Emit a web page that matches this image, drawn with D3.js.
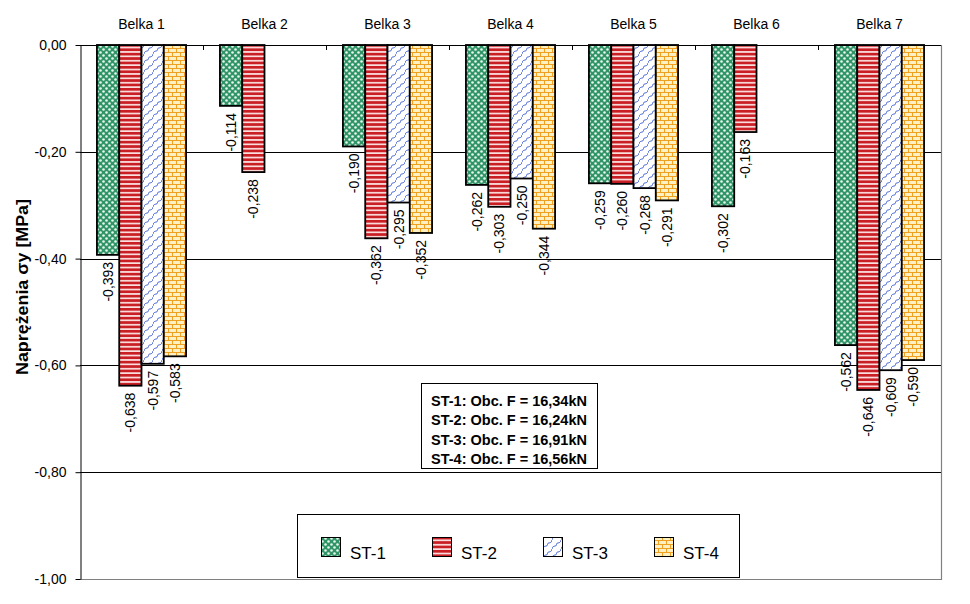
<!DOCTYPE html>
<html><head><meta charset="utf-8">
<script src="https://cdn.jsdelivr.net/npm/d3@7"></script>
<style>
html,body{margin:0;padding:0;background:#fff;}
svg{display:block;font-family:Arial,"Liberation Sans",sans-serif;}
</style></head>
<body><svg id="c" width="970" height="604"></svg>
<script>
const categories = ["Belka 1","Belka 2","Belka 3","Belka 4","Belka 5","Belka 6","Belka 7"];
const series = ["ST-1","ST-2","ST-3","ST-4"];
const st1 = [-0.393,-0.114,-0.190,-0.262,-0.259,-0.302,-0.562];
const st2 = [-0.638,-0.238,-0.362,-0.303,-0.260,-0.163,-0.646];
const st3 = [-0.597,null,-0.295,-0.250,-0.268,null,-0.609];
const st4 = [-0.583,null,-0.352,-0.344,-0.291,null,-0.590];
const yTicks = [0,-0.2,-0.4,-0.6,-0.8,-1.0];
const loadLabels = ["ST-1: Obc. F = 16,34kN","ST-2: Obc. F = 16,24kN","ST-3: Obc. F = 16,91kN","ST-4: Obc. F = 16,56kN"];
const yTitle = "Naprężenia σy [MPa]";

const values = [st1, st2, st3, st4];
const svg = d3.select("#c");
const L = 80, R = 941, T = 45, B = 579;

const x = d3.scaleBand().domain(categories).range([L, R]).padding(0);
const xs = d3.scaleBand().domain(series).range([0, x.bandwidth()]).paddingInner(0).paddingOuter(0.76);
const y = d3.scaleLinear().domain([-1, 0]).range([B, T]);
const fmt = v => v.toFixed(2).replace(".", ",");
const fmt3 = v => v.toFixed(3).replace(".", ",");

// patterns
const defs = svg.append("defs");
const p1 = defs.append("pattern").attr("id","pat0").attr("patternUnits","userSpaceOnUse").attr("width",6).attr("height",6);
p1.append("rect").attr("width",6).attr("height",6).attr("fill","#2f9466");
p1.append("circle").attr("cx",1.5).attr("cy",1.5).attr("r",1.3).attr("fill","#e8f5ee");
p1.append("circle").attr("cx",4.5).attr("cy",4.5).attr("r",1.3).attr("fill","#e8f5ee");
const p2 = defs.append("pattern").attr("id","pat1").attr("patternUnits","userSpaceOnUse").attr("width",4.4).attr("height",4.4);
p2.append("rect").attr("width",4.4).attr("height",4.4).attr("fill","#fbe0e0");
p2.append("rect").attr("width",4.4).attr("height",2.7).attr("fill","#c81e24");
const p3 = defs.append("pattern").attr("id","pat2").attr("patternUnits","userSpaceOnUse").attr("width",9).attr("height",9);
p3.append("rect").attr("width",9).attr("height",9).attr("fill","#ffffff");
p3.append("path").attr("d","M0,9 C0,5 5,7 4.5,4.5 C4,2 9,4 9,0").attr("fill","none").attr("stroke","#3a5bd0").attr("stroke-width",1);

const p4 = defs.append("pattern").attr("id","pat3").attr("patternUnits","userSpaceOnUse").attr("width",8).attr("height",8);
p4.append("rect").attr("width",8).attr("height",8).attr("fill","#fff0c4");
p4.append("path").attr("d","M0,0.5 H8 M0,4.5 H8 M0.5,0.5 V4.5 M4.5,4.5 V8").attr("fill","none").attr("stroke","#f0a020").attr("stroke-width",1);

// gridlines
svg.append("g").selectAll("line").data(yTicks.filter(t => t > -1 && t < 0)).join("line")
  .attr("x1", L).attr("x2", R).attr("y1", d => Math.round(y(d)) + 0.5).attr("y2", d => Math.round(y(d)) + 0.5)
  .attr("stroke", "#000").attr("stroke-width", 1);
// plot border right/bottom (gray)
svg.append("path").attr("d", `M${R + 0.5},${T} V${B + 0.5} H${L}`).attr("fill","none").attr("stroke","#808080").attr("stroke-width",1.2);

// bars
const gBars = svg.append("g");
categories.forEach((c, ci) => {
  series.forEach((s, si) => {
    const v = values[si][ci];
    if (v === null || v === undefined) return;
    const x0 = x(c) + xs(s);
    gBars.append("rect")
      .attr("x", x0).attr("y", y(0)).attr("width", xs.bandwidth()).attr("height", y(v) - y(0))
      .attr("fill", `url(#pat${si})`).attr("stroke", "#000").attr("stroke-width", 1.8);
  });
});
// labels
const gLab = svg.append("g");
categories.forEach((c, ci) => {
  series.forEach((s, si) => {
    const v = values[si][ci];
    if (v === null || v === undefined) return;
    const cx = x(c) + xs(s) + xs.bandwidth() / 2;
    const cy = y(v) + 7;
    gLab.append("text")
      .attr("transform", `translate(${cx},${cy}) rotate(-90)`)
      .attr("text-anchor", "end").attr("dominant-baseline", "central")
      .attr("font-size", 14).attr("fill", "#000")
      .text(fmt3(v));
  });
});

// y axis
const yAxis = d3.axisLeft(y).tickValues(yTicks).tickFormat(fmt).tickSizeInner(5).tickSizeOuter(0).tickPadding(9);
const gy = svg.append("g").attr("transform", `translate(${L + 0.5},0)`).call(yAxis);
gy.select(".domain").attr("stroke", "#000");
gy.selectAll(".tick line").attr("stroke", "#000");
gy.selectAll(".tick text").attr("font-size", 14).attr("fill", "#000").attr("font-family", "Arial,'Liberation Sans',sans-serif");

// x axis (top)
const xAxis = d3.axisTop(x).tickSize(0).tickPadding(17);
const gx = svg.append("g").attr("transform", `translate(0,${T + 0.5})`).call(xAxis);
gx.select(".domain").attr("stroke", "#000").attr("d", `M${L},0H${R}`);
gx.selectAll(".tick text").attr("font-size", 14).attr("fill", "#000").attr("font-family", "Arial,'Liberation Sans',sans-serif");
svg.append("g").selectAll("line").data(categories.slice(1)).join("line")
  .attr("x1", d => Math.round(x(d)) + 0.5).attr("x2", d => Math.round(x(d)) + 0.5)
  .attr("y1", T).attr("y2", T + 5).attr("stroke", "#000");

// y title
svg.append("text").attr("transform", "translate(22,287) rotate(-90)")
  .attr("text-anchor", "middle").attr("dominant-baseline", "central")
  .attr("font-size", 16).attr("font-weight", "bold").attr("fill", "#000")
  .attr("textLength", 176).attr("lengthAdjust", "spacingAndGlyphs")
  .text(yTitle);

// load text box
svg.append("rect").attr("x", 421.5).attr("y", 383.5).attr("width", 176).attr("height", 85)
  .attr("fill", "#fff").attr("stroke", "#000").attr("stroke-width", 1);
svg.append("g").selectAll("text").data(loadLabels).join("text")
  .attr("x", 509).attr("y", (d, i) => 401 + i * 19.3)
  .attr("text-anchor", "middle").attr("dominant-baseline", "central")
  .attr("font-size", 14.5).attr("font-weight", "bold").attr("fill", "#000")
  .text(d => d);

// legend
svg.append("rect").attr("x", 297.5).attr("y", 514.5).attr("width", 442).attr("height", 63)
  .attr("fill", "#fff").attr("stroke", "#000").attr("stroke-width", 1);
const lg = svg.append("g").selectAll("g").data(series).join("g")
  .attr("transform", (d, i) => `translate(${321 + i * 111},0)`);
lg.append("rect").attr("x", 0.5).attr("y", 537.5).attr("width", 19).attr("height", 19)
  .attr("fill", (d, i) => `url(#pat${i})`).attr("stroke", "#000").attr("stroke-width", 1);
lg.append("text").attr("x", 29).attr("y", 559).attr("font-size", 17).attr("fill", "#000").text(d => d);
</script>
</body></html>
